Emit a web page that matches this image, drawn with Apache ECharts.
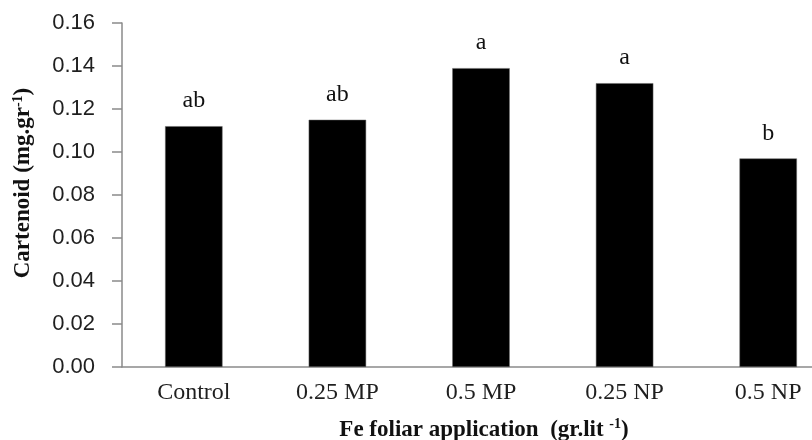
<!DOCTYPE html>
<html>
<head>
<meta charset="utf-8">
<script src="https://cdn.jsdelivr.net/npm/echarts@6/dist/echarts.min.js"></script>
<style>
  html, body { margin: 0; padding: 0; background: #fff; }
  #chart { width: 812px; height: 440px; }
</style>
</head>
<body>
<div id="chart"></div>
<script>
// Carotenoid content under Fe foliar treatments
const treatments = ['Control', '0.25 MP', '0.5 MP', '0.25 NP', '0.5 NP'];
const carotenoid = [0.112, 0.115, 0.139, 0.132, 0.097];
const groupLetters = ['ab', 'ab', 'a', 'a', 'b'];
const yTicks = { min: 0, max: 0.16, step: 0.02 };

const serif = '"Liberation Serif", "DejaVu Serif", serif';
const sans = '"Liberation Sans", Arial, sans-serif';

const chart = echarts.init(document.getElementById('chart'), null, { renderer: 'canvas' });

chart.setOption({
  animation: false,
  backgroundColor: '#ffffff',
  // plot area runs past the right edge of the canvas
  grid: { left: 122, top: 23, width: 718, height: 344, containLabel: false, outerBoundsMode: 'none' },
  xAxis: {
    type: 'category',
    data: treatments,
    axisLine: { lineStyle: { color: '#8a8a8a', width: 1.5 } },
    axisTick: { show: false },
    axisLabel: { margin: 14, color: '#1f1f1f', fontFamily: serif, fontSize: 24 },
    name: '{t|Fe foliar application  (gr.lit }{s|-1}{t|)}',
    nameLocation: 'middle',
    nameGap: 50,
    nameTextStyle: {
      padding: [0, 0, 0, 6],
      rich: {
        t: { fontFamily: serif, fontWeight: 'bold', fontSize: 23, color: '#111' },
        s: { fontFamily: serif, fontWeight: 'bold', fontSize: 14, color: '#111', verticalAlign: 'top', padding: [0, 0, 12, 0] }
      }
    }
  },
  yAxis: {
    type: 'value',
    min: yTicks.min,
    max: yTicks.max,
    interval: yTicks.step,
    splitLine: { show: false },
    axisLine: { show: true, lineStyle: { color: '#8a8a8a', width: 1.5 } },
    axisTick: { show: true, length: 10, lineStyle: { color: '#8a8a8a', width: 1.5 } },
    axisLabel: {
      margin: 27,
      color: '#1f1f1f',
      fontFamily: sans,
      fontSize: 22,
      formatter: v => v.toFixed(2)
    },
    name: '{t|Cartenoid (mg.gr}{s|-1}{t|)}',
    nameLocation: 'middle',
    nameRotate: 90,
    nameGap: 86,
    nameTextStyle: {
      padding: [0, 0, 0, 24],
      rich: {
        t: { fontFamily: serif, fontWeight: 'bold', fontSize: 23, color: '#111' },
        s: { fontFamily: serif, fontWeight: 'bold', fontSize: 14, color: '#111', verticalAlign: 'top', padding: [0, 0, 11, 0] }
      }
    }
  },
  series: [{
    type: 'bar',
    data: carotenoid,
    barWidth: '40%',
    itemStyle: { color: '#000000', borderColor: '#6a6a6a', borderWidth: 0.5 },
    label: {
      show: true,
      position: 'top',
      distance: 13,
      fontFamily: serif,
      fontSize: 24,
      color: '#111',
      formatter: p => groupLetters[p.dataIndex]
    }
  }]
});
</script>
</body>
</html>
